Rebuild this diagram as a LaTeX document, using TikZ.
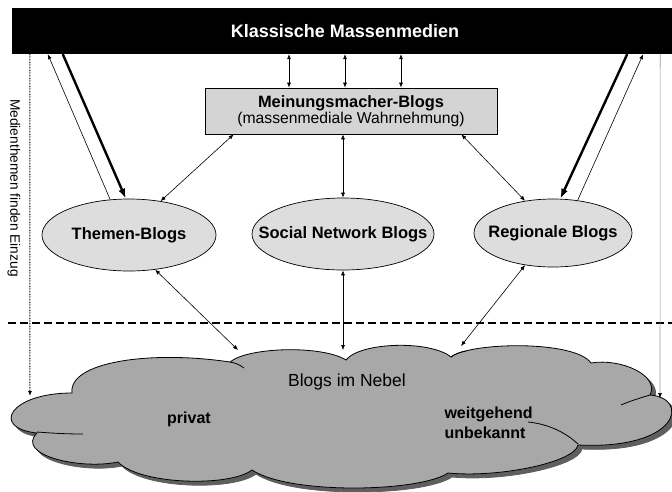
\documentclass[tikz,border=0pt]{standalone}
\usepackage{fontspec}
\setmainfont{Liberation Sans}
\usetikzlibrary{shapes.geometric, arrows.meta, positioning}
\definecolor{nebel}{RGB}{168,168,168}
\definecolor{nebelshadow}{RGB}{95,95,95}
\definecolor{blobfill}{RGB}{221,221,221}
\definecolor{boxfill}{RGB}{212,212,212}

\begin{document}
\begin{tikzpicture}[x=1pt, y=-1pt, >={Latex[length=5pt,width=4pt]},
    blob/.style={ellipse, draw, line width=0.7pt, fill=blobfill, inner sep=0pt,
      label={[font=\fontsize{16.5}{19}\selectfont\bfseries]center:#1}},
    link/.style={<->, line width=0.6pt},
    heavy/.style={-{Latex[length=10pt,width=7pt]}, line width=2.4pt},
    slim/.style={->, line width=0.6pt}]
    \useasboundingbox (0,0) rectangle (672,491);

    % cloud with shadow
    \foreach \dd/\col/\edge in {4/nebelshadow/nebelshadow, 0/nebel/black}
      \filldraw[fill=\col, draw=\edge, line width=0.8pt, shift={(\dd,\dd)}]
        (72,393) .. controls (68,362) and (150,350) .. (230,362)
        .. controls (248,347) and (322,345) .. (346,360)
        .. controls (360,342) and (430,340) .. (451,357)
        .. controls (470,342) and (575,340) .. (591,363)
        .. controls (620,358) and (660,375) .. (650,395)
        .. controls (690,398) and (680,450) .. (578,445)
        .. controls (575,462) and (500,478) .. (448,473)
        .. controls (420,492) and (290,495) .. (252,470)
        .. controls (230,487) and (140,485) .. (118,462)
        .. controls (80,470) and (15,455) .. (37,433)
        .. controls (-10,428) and (10,393) .. (72,393) -- cycle;
    \draw[line width=0.8pt] (230,362) .. controls (236,363) and (240,365) .. (244,368);
    \draw[line width=0.8pt] (451,357) .. controls (455,354) and (460,352) .. (466,351);
    \draw[line width=0.8pt] (650,395) .. controls (640,398) and (630,401) .. (621,405);
    \draw[line width=0.8pt] (578,444) .. controls (565,432) and (548,424) .. (528,422);
    \draw[line width=0.8pt] (37,432) .. controls (50,433) and (65,434) .. (83,434);
    \node[font=\fontsize{17.5}{20}\selectfont] (nebeltext) at (347,382) {Blogs im Nebel};
    \node[font=\fontsize{16}{19}\selectfont\bfseries] (privat) at (189,419) {privat};
    \node[font=\fontsize{16}{20}\selectfont\bfseries, align=left, anchor=west] (unbekannt) at (441,423) {weitgehend\\unbekannt};
    \coordinate (n1) at (238,350);
    \coordinate (n2) at (343,350);
    \coordinate (n3) at (461,346);
    \coordinate (ml) at (30,396);
    \coordinate (mr) at (660,398);

    \draw[dash pattern=on 8pt off 4pt, line width=1.4pt] (8,323) -- (672,323);

    \node[fill=black, minimum width=666pt, minimum height=46pt, inner sep=0pt, text=white,
          font=\fontsize{18}{20}\selectfont\bfseries] (medien) at (345,31) {Klassische Massenmedien};
    \node[draw, line width=0.7pt, fill=boxfill, minimum width=292pt, minimum height=46pt, inner sep=0pt, align=center] (meinung) at (351,111)
      {{\fontsize{16.4}{19}\selectfont\bfseries Meinungsmacher-Blogs}\\{\fontsize{15.7}{19}\selectfont (massenmediale Wahrnehmung)}};
    \node[blob=Themen-Blogs, minimum width=174pt, minimum height=72pt] (themen) at (129,235) {};
    \node[blob=Social Network Blogs, minimum width=182pt, minimum height=72pt] (social) at (343,234) {};
    \node[blob=Regionale Blogs, minimum width=158pt, minimum height=68pt] (regional) at (553,233) {};
    \node[rotate=-90, font=\fontsize{13.7}{16}\selectfont] (einzug) at (14,188) {Medienthemen finden Einzug};

    \foreach \dx in {-62,-6,50}
      \draw[link] ([xshift=\dx pt]meinung.north) -- ([xshift=\dx pt]meinung.north |- medien.south);
    \draw[link] ([xshift=29pt]meinung.south west) -- (themen.47);
    \draw[link] ([xshift=-8pt]meinung.south) -- (social.north);
    \draw[link] ([xshift=-36pt]meinung.south east) -- (regional.131);
    \draw[link] (themen.-53) -- (n1);
    \draw[link] (social.south) -- (n2);
    \draw[link] (regional.229) -- (n3);

    \draw[heavy] ([xshift=51pt]medien.south west) -- (themen.95);
    \draw[slim] (themen.118) -- ([xshift=36pt]medien.south west);
    \draw[heavy] ([xshift=-51pt]medien.south east) -- (regional.78);
    \draw[slim] (regional.53) -- ([xshift=-35pt]medien.south east);

    \draw[->, dash pattern=on 0.8pt off 0.8pt, line width=1pt] ([xshift=18pt]medien.south west) -- (ml);
    \draw[-{Latex[length=5pt,width=4pt,black]}, draw=gray!80, line width=0.6pt] ([xshift=-18pt]medien.south east) -- (mr);
\end{tikzpicture}
\end{document}
